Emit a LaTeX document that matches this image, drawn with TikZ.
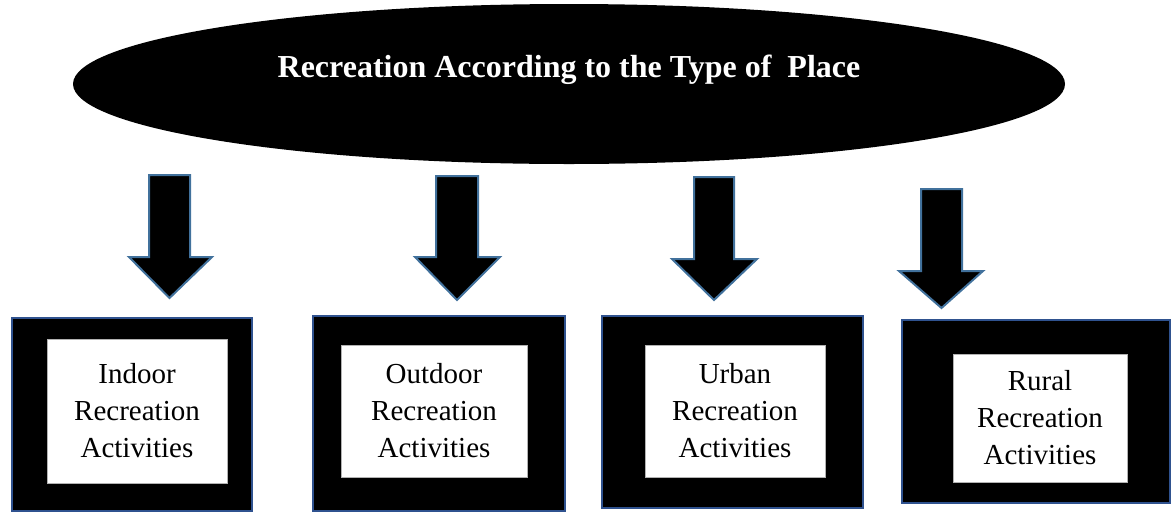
\documentclass[tikz,border=0pt]{standalone}
\usepackage{fontspec}
\setmainfont{Liberation Serif}
\usetikzlibrary{shapes.geometric}
\definecolor{boxblue}{RGB}{47,82,143}
\definecolor{arrowblue}{RGB}{65,113,156}
\tikzset{
  titleshape/.style={ellipse, fill=black, inner sep=0pt},
  titletext/.style={text=white, font=\fontsize{32}{38}\selectfont\bfseries, inner sep=0pt},
  outerbox/.style={draw=boxblue, line width=1.5pt, fill=black, inner sep=0pt},
  innerbox/.style={fill=white, draw=gray!60, line width=0.4pt, inner sep=0pt},
  boxtext/.style={font=\fontsize{29}{37}\selectfont, align=center, inner sep=0pt},
  blockarrow/.style={draw=arrowblue, line width=2pt, fill=black, line join=miter}
}
% shaft left, shaft right, top, shoulder y, head left, head right, tip y
\newcommand\blockarr[7]{%
  \draw[blockarrow] (#1,#3) -- (#2,#3) -- (#2,#4) -- (#6,#4) -- ({(#1+#2)/2},#7) -- (#5,#4) -- (#1,#4) -- cycle;}
\begin{document}
\begin{tikzpicture}[x=1pt,y=-1pt]
\useasboundingbox (0,0) rectangle (1173,512);
\node[titleshape, minimum width=992pt, minimum height=160pt] (top) at (569,84) {};
\node[titletext] (title) at (569,70) {Recreation According to the Type of\ \ Place};

\blockarr{149}{190}{175}{257}{129}{212}{298}
\blockarr{436}{478}{176}{257}{415}{500}{300}
\blockarr{694}{734}{177}{259}{672}{757}{300}
\blockarr{921}{962}{189}{271}{899}{983}{308}

\node[outerbox, minimum width=240pt, minimum height=193pt] (o1) at (132,414.5) {};
\node[outerbox, minimum width=252pt, minimum height=195pt] (o2) at (439,413.5) {};
\node[outerbox, minimum width=261pt, minimum height=192pt] (o3) at (732.5,412) {};
\node[outerbox, minimum width=268pt, minimum height=183pt] (o4) at (1036,411.5) {};

\node[innerbox, minimum width=180pt, minimum height=144pt] (i1) at (137,411) {};
\node[innerbox, minimum width=186pt, minimum height=132pt] (i2) at (434,411) {};
\node[innerbox, minimum width=180pt, minimum height=132pt] (i3) at (735,411) {};
\node[innerbox, minimum width=174pt, minimum height=128pt] (i4) at (1040,418) {};

\node[boxtext] (t1) at (i1.center) {Indoor\\Recreation\\Activities};
\node[boxtext] (t2) at (i2.center) {Outdoor\\Recreation\\Activities};
\node[boxtext] (t3) at (i3.center) {Urban\\Recreation\\Activities};
\node[boxtext] (t4) at (i4.center) {Rural\\Recreation\\Activities};
\end{tikzpicture}
\end{document}
